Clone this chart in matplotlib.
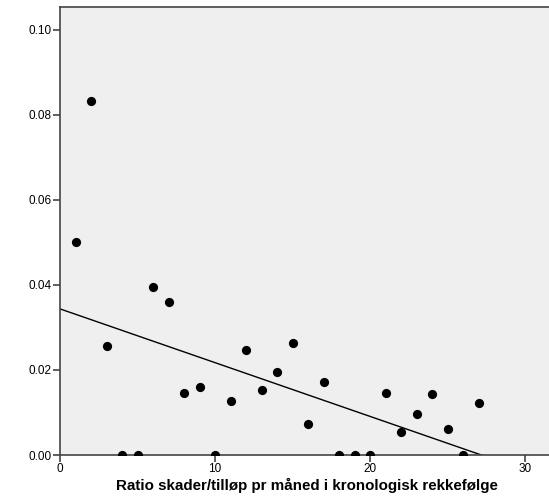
import numpy as np
import matplotlib
matplotlib.use("Agg")
import matplotlib.pyplot as plt

# month index (chronological) and ratio injuries/attempts
month = [1, 2, 3, 4, 5, 6, 7, 8, 9, 10, 11, 12, 13, 14,
         15, 16, 17, 18, 19, 20, 21, 22, 23, 24, 25, 26, 27]
ratio = [0.0500, 0.0832, 0.0256, 0.0, 0.0, 0.0395, 0.0359, 0.0147, 0.0159,
         0.0, 0.0126, 0.0247, 0.0153, 0.0196, 0.0263, 0.0072, 0.0171,
         0.0, 0.0, 0.0, 0.0146, 0.0054, 0.0097, 0.0143, 0.0062, 0.0, 0.0123]

x_ticks = [0, 10, 20, 30]
y_ticks = [0.00, 0.02, 0.04, 0.06, 0.08, 0.10]

plt.rcParams["font.family"] = ["Liberation Sans", "DejaVu Sans"]

W, H = 549, 498
fig = plt.figure(figsize=(W / 100, H / 100), dpi=100)
ax = fig.add_axes([60 / W, 43 / H, (W - 60) / W + 0.01, 448 / H])
ax.set_facecolor("#efefef")

ax.scatter(month, ratio, s=44, color="black", zorder=3, linewidths=0)

# linear fit (total)
slope, intercept = np.polyfit(month, ratio, 1)
xs = np.array([0, 32])
ax.plot(xs, intercept + slope * xs, color="black", lw=1.0, zorder=2)

ax.set_xlim(0, 31.9)
ax.set_ylim(0, 0.1054)
ax.set_xticks(x_ticks)
ax.set_yticks(y_ticks)
ax.set_yticklabels([f"{v:.2f}" for v in y_ticks])

for side in ["left", "bottom", "top"]:
    ax.spines[side].set_color("#444444")
    ax.spines[side].set_linewidth(1.2)
ax.spines["right"].set_visible(False)
ax.tick_params(axis="both", direction="out", length=5, width=1.2,
               color="#444444", labelsize=8.5, pad=1)

ax.set_xlabel("Ratio skader/tilløp pr måned i kronologisk rekkefølge",
              fontsize=10.9, fontweight="bold", labelpad=2)

fig.savefig("out.png", dpi=100)
